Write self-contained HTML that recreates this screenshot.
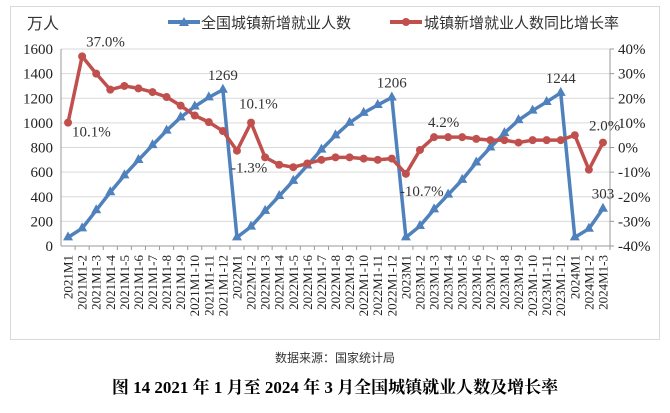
<!DOCTYPE html>
<html><head><meta charset="utf-8"><style>
body{margin:0;background:#fff;width:670px;height:413px;overflow:hidden;font-family:"Liberation Serif","Noto Serif CJK SC",serif}
svg{position:absolute;left:0;top:0}
</style></head><body>
<svg id="c" width="670" height="413">
<rect x="10.5" y="6.5" width="649" height="333" fill="#fff" stroke="#d9d9d9"/>
<text x="27" y="29" font-size="16" font-family="'Noto Sans CJK SC',sans-serif" fill="#333">万人</text>
<g>
<line x1="168" y1="22" x2="200" y2="22" stroke="#4f81bd" stroke-width="4"/>
<polygon points="184,17 189,26 179,26" fill="#4f81bd"/>
<text x="201" y="28" font-size="15" font-family="'Noto Sans CJK SC',sans-serif" fill="#333">全国城镇新增就业人数</text>
</g>
<g>
<line x1="390" y1="22" x2="422" y2="22" stroke="#c0504d" stroke-width="4"/>
<circle cx="406" cy="22" r="4" fill="#c0504d"/>
<text x="424" y="28" font-size="15" font-family="'Noto Sans CJK SC',sans-serif" fill="#333">城镇新增就业人数同比增长率</text>
</g>
<g id="plot"></g>
<text x="335" y="362" text-anchor="middle" font-size="12" font-family="'Noto Sans CJK SC',sans-serif" fill="#333">数据来源：国家统计局</text>
<text x="335" y="393" text-anchor="middle" font-size="17" font-weight="bold" fill="#000">图 14 2021 年 1 月至 2024 年 3 月全国城镇就业人数及增长率</text>
</svg>
<script>
const categories=[];
["2021","2022","2023"].forEach(y=>{for(let m=1;m<=12;m++)categories.push(m==1?y+"M1":y+"M1-"+m);});
categories.push("2024M1","2024M1-2","2024M1-3");
const employment=[70,143,290,437,574,698,819,937,1045,1133,1207,1269,70,157,285,406,529,654,783,898,1001,1081,1145,1206,70,162,297,417,537,678,800,917,1022,1100,1170,1244,70,140,303];
const growth=[10.1,37.0,30,23.5,25,24,22.5,20.5,17,13,10.3,6.7,-1.3,10.1,-4,-7,-8,-6.5,-5,-4,-4,-4.5,-5,-4.5,-10.7,-1,4.2,4.2,4.2,3.5,3,3,2,3,3,3,5,-9,2.0];
const leftTicks=[0,200,400,600,800,1000,1200,1400,1600];
const rightTicks=[-40,-30,-20,-10,0,10,20,30,40];
const empLabels={11:"1269",23:"1206",35:"1244",38:"303"};
const growthLabels={0:["10.1%",4,14],1:["37.0%",4,-10],12:["-1.3%",-6,22],13:["10.1%",-12,-14],24:["-10.7%",-6,22],26:["4.2%",-6,-10],38:["2.0%",-14,-12]};
const L=61,R=610,T=49,B=246,n=categories.length,bw=(R-L)/n;
const x=i=>L+bw*(i+.5);
const yL=v=>B-(v/1600)*(B-T);
const yR=v=>B-((v+40)/80)*(B-T);
const g=document.getElementById('plot');const NS="http://www.w3.org/2000/svg";
function mk(t,a,p){const e=document.createElementNS(NS,t);for(const k in a)e.setAttribute(k,a[k]);(p||g).appendChild(e);return e;}
leftTicks.forEach((v,i)=>{
 if(i>0){const gl=mk('line',{x1:L,x2:R,y1:yL(v),y2:yL(v),stroke:'#d9d9d9'});
 
 }
 const t=mk('text',{x:L-8,y:yL(v)+5,'text-anchor':'end','font-size':15,fill:'#222'});t.textContent=v;
 
 
});
rightTicks.forEach(v=>{
 mk('line',{x1:R,x2:R+4,y1:yR(v),y2:yR(v),stroke:'#999'});
 const t=mk('text',{x:R+8,y:yR(v)+5,'font-size':15,fill:'#222'});t.textContent=v+"%";
 
 
});
mk('line',{x1:L,x2:L,y1:T,y2:B,stroke:'#999'});
mk('line',{x1:R,x2:R,y1:T,y2:B,stroke:'#999'});
mk('line',{x1:L,x2:R,y1:B,y2:B,stroke:'#999'});
categories.forEach((c,i)=>{
 mk('line',{x1:L+bw*(i+1),x2:L+bw*(i+1),y1:B,y2:B+4,stroke:'#999'});
 const t=mk('text',{transform:`translate(${x(i)+4.5},${B+9}) rotate(-90)`,'text-anchor':'end','font-size':13,fill:'#222'});
 t.textContent=c;
 
 
});
const bp=mk('polyline',{points:employment.map((v,i)=>x(i)+","+yL(v)).join(" "),fill:'none',stroke:'#4f81bd','stroke-width':3.5,'stroke-linejoin':'round'});


employment.forEach((v,i)=>{const X=x(i),Y=yL(v);
 const p=mk('polygon',{points:`${X},${Y-6} ${X+5},${Y+3} ${X-5},${Y+3}`,fill:'#4f81bd'});
 
 
 if(empLabels[i]){const t=mk('text',{x:X,y:Y-10,'text-anchor':'middle','font-size':15,fill:'#333'});t.textContent=empLabels[i];
 
 }
});
const rp=mk('polyline',{points:growth.map((v,i)=>x(i)+","+yR(v)).join(" "),fill:'none',stroke:'#c0504d','stroke-width':3.5,'stroke-linejoin':'round'});


growth.forEach((v,i)=>{const X=x(i),Y=yR(v);
 const c=mk('circle',{cx:X,cy:Y,r:4,fill:'#c0504d'});
 
 
 const gl=growthLabels[i];
 if(gl){const t=mk('text',{x:X+gl[1],y:Y+gl[2],'font-size':15,fill:'#333'});t.textContent=gl[0];
 
 }
});
</script>
</body></html>
